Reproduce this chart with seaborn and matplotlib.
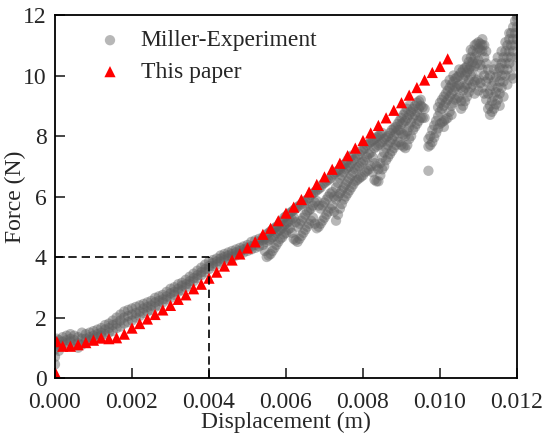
import numpy as np
import pandas as pd
import seaborn as sns
import matplotlib.pyplot as plt

# Visual Style
sns.set_style("white")
plt.rcParams['font.family'] = ['Liberation Serif', 'DejaVu Serif']

OUTPUT_PATH = "out.png"
FONT_SIZE = 17

# Miller experiment, lower part of the curve (displacement mm, force N)
exp_low_disp_mm = [
    0, 0, 0, 0,
    0.05, 0.05,
    0.1, 0.1, 0.1, 0.2, 0.2, 0.2, 0.3, 0.3, 0.3, 0.4, 0.4, 0.4,
    0.5, 0.5, 0.5, 0.6, 0.6, 0.6, 0.7, 0.7, 0.7, 0.8, 0.8, 0.8,
    0.9, 0.9, 0.9, 1.0, 1.0, 1.0, 1.1, 1.1, 1.1, 1.2, 1.2, 1.2,
    1.3, 1.3, 1.3, 1.4, 1.4, 1.4, 1.5, 1.5, 1.5, 1.6, 1.6, 1.6,
    1.7, 1.7, 1.7, 1.8, 1.8, 1.8, 1.9, 1.9, 1.9, 2.0, 2.0, 2.0,
    2.1, 2.1, 2.1, 2.2, 2.2, 2.2, 2.3, 2.3, 2.3, 2.4, 2.4, 2.4,
    2.5, 2.5, 2.5, 2.6, 2.6, 2.6, 2.7, 2.7, 2.7, 2.8, 2.8, 2.8,
    2.9, 2.9, 2.9, 3.0, 3.0, 3.0, 3.1, 3.1, 3.1, 3.2, 3.2, 3.2,
    3.3, 3.3, 3.3, 3.4, 3.4, 3.4, 3.5, 3.5, 3.5, 3.6, 3.6, 3.6,
    3.7, 3.7, 3.7, 3.8, 3.8, 3.8, 3.9, 3.9, 3.9, 4.0, 4.0, 4.0,
    4.1, 4.1, 4.1, 4.2, 4.2, 4.2, 4.3, 4.3, 4.3, 4.4, 4.4, 4.4,
    4.5, 4.5, 4.5, 4.6, 4.6, 4.6, 4.7, 4.7, 4.7, 4.8, 4.8, 4.8,
    4.9, 4.9, 4.9, 5.0, 5.0, 5.0, 5.1, 5.1, 5.1, 5.2, 5.2, 5.2,
    5.3, 5.3, 5.3, 5.4, 5.4, 5.4,
]
exp_low_force = [
    0.45, 0.7, 0.95, 1.2,
    1.05, 1.3,
    0.9, 1.1, 1.25, 1.1, 1.2, 1.35, 1.15, 1.25, 1.4, 1.2, 1.3, 1.45,
    1.1, 1.25, 1.4, 1.0, 1.15, 1.35, 1.1, 1.3, 1.5, 1.2, 1.3, 1.45,
    1.25, 1.35, 1.5, 1.3, 1.4, 1.55, 1.35, 1.45, 1.6, 1.4, 1.5, 1.65,
    1.45, 1.6, 1.75, 1.5, 1.65, 1.8, 1.55, 1.75, 1.9, 1.65, 1.8, 2.0,
    1.7, 1.9, 2.1, 1.8, 2.0, 2.2, 1.85, 2.05, 2.25, 1.9, 2.1, 2.3,
    2.0, 2.15, 2.35, 2.05, 2.2, 2.4, 2.15, 2.3, 2.45, 2.2, 2.35, 2.5,
    2.25, 2.4, 2.55, 2.35, 2.5, 2.65, 2.4, 2.55, 2.7, 2.5, 2.6, 2.75,
    2.6, 2.7, 2.85, 2.65, 2.8, 2.95, 2.75, 2.85, 3.0, 2.85, 2.95, 3.1,
    2.9, 3.05, 3.15, 3.0, 3.1, 3.25, 3.1, 3.2, 3.35, 3.2, 3.3, 3.45,
    3.3, 3.4, 3.55, 3.4, 3.5, 3.65, 3.5, 3.6, 3.75, 3.6, 3.7, 3.85,
    3.7, 3.8, 3.9, 3.75, 3.85, 3.95, 3.85, 3.95, 4.05, 3.9, 4.0, 4.1,
    3.95, 4.05, 4.15, 4.0, 4.1, 4.2, 4.05, 4.15, 4.25, 4.1, 4.2, 4.3,
    4.15, 4.25, 4.35, 4.2, 4.3, 4.4, 4.25, 4.35, 4.5, 4.3, 4.4, 4.55,
    4.35, 4.5, 4.6, 4.4, 4.55, 4.65,
]

# Miller experiment, upper (saw-tooth) part of the curve
exp_high_disp_mm = [
    5.45, 5.45,
    5.5, 5.5, 5.5, 5.55, 5.55, 5.55, 5.6, 5.6, 5.6, 5.65, 5.65, 5.65,
    5.7, 5.7, 5.7, 5.75, 5.75, 5.75, 5.8, 5.8, 5.8, 5.85, 5.85, 5.85,
    5.9, 5.9, 5.9, 5.95, 5.95, 5.95, 6.0, 6.0, 6.0, 6.05, 6.05, 6.05,
    6.1, 6.1, 6.1, 6.15, 6.15, 6.15, 6.2, 6.2, 6.2, 6.25, 6.25, 6.25,
    6.3, 6.3, 6.3, 6.35, 6.35, 6.35, 6.4, 6.4, 6.4, 6.45, 6.45, 6.45,
    6.5, 6.5, 6.5, 6.55, 6.55, 6.55, 6.6, 6.6, 6.6, 6.65, 6.65, 6.65,
    6.7, 6.7, 6.7, 6.75, 6.75, 6.75, 6.8, 6.8, 6.8, 6.85, 6.85, 6.85,
    6.9, 6.9, 6.9, 6.95, 6.95, 6.95, 7.0, 7.0, 7.0, 7.05, 7.05, 7.05,
    7.1, 7.1, 7.1, 7.15, 7.15, 7.15, 7.2, 7.2, 7.2, 7.25, 7.25, 7.25,
    7.3, 7.3, 7.3, 7.3, 7.35, 7.35, 7.35, 7.35, 7.4, 7.4, 7.4, 7.4,
    7.45, 7.45, 7.45, 7.45, 7.5, 7.5, 7.5, 7.5, 7.55, 7.55, 7.55, 7.55,
    7.6, 7.6, 7.6, 7.6, 7.65, 7.65, 7.65, 7.65, 7.7, 7.7, 7.7, 7.7,
    7.75, 7.75, 7.75, 7.8, 7.8, 7.8, 7.85, 7.85, 7.85, 7.9, 7.9, 7.9,
    7.95, 7.95, 7.95, 8.0, 8.0, 8.0, 8.05, 8.05, 8.05, 8.1, 8.1, 8.1,
    8.15, 8.15, 8.15, 8.2, 8.2, 8.2, 8.25, 8.25, 8.25,
    8.3, 8.3, 8.3, 8.3, 8.35, 8.35, 8.35, 8.35, 8.4, 8.4, 8.4, 8.4,
    8.45, 8.45, 8.45, 8.45, 8.5, 8.5, 8.5, 8.5,
    8.55, 8.55, 8.55, 8.6, 8.6, 8.6, 8.65, 8.65, 8.65, 8.7, 8.7, 8.7,
    8.75, 8.75, 8.75, 8.8, 8.8, 8.8, 8.85, 8.85, 8.85, 8.9, 8.9, 8.9,
    8.95, 8.95, 8.95,
    9.0, 9.0, 9.0, 9.0, 9.05, 9.05, 9.05, 9.05, 9.1, 9.1, 9.1, 9.1,
    9.15, 9.15, 9.15, 9.15, 9.2, 9.2, 9.2, 9.2,
    9.25, 9.25, 9.25, 9.3, 9.3, 9.3, 9.35, 9.35, 9.35, 9.4, 9.4, 9.4,
    9.45, 9.45, 9.45, 9.5, 9.5, 9.5,
    9.55, 9.55, 9.6, 9.6,
    9.7, 9.7, 9.7,
    9.75, 9.75, 9.8, 9.8, 9.85, 9.85, 9.9, 9.9,
    9.95, 9.95, 9.95, 10.0, 10.0, 10.0, 10.05, 10.05, 10.05,
    10.1, 10.1, 10.1, 10.15, 10.15, 10.15, 10.2, 10.2, 10.2,
    10.25, 10.25, 10.25, 10.3, 10.3, 10.3, 10.35, 10.35, 10.35,
    10.4, 10.4, 10.4, 10.45, 10.45, 10.45, 10.5, 10.5, 10.5,
    10.55, 10.55, 10.55,
    10.6, 10.6, 10.6, 10.6, 10.65, 10.65, 10.65, 10.65,
    10.7, 10.7, 10.7, 10.7, 10.75, 10.75, 10.75, 10.75,
    10.8, 10.8, 10.8, 10.8, 10.85, 10.85, 10.85, 10.85,
    10.9, 10.9, 10.9, 10.9, 10.95, 10.95, 10.95, 10.95,
    11.0, 11.0, 11.0, 11.0, 11.05, 11.05, 11.05, 11.05,
    11.1, 11.1, 11.1, 11.1,
    11.15, 11.15, 11.15, 11.2, 11.2, 11.2,
    11.25, 11.25, 11.25, 11.25, 11.3, 11.3, 11.3, 11.3,
    11.35, 11.35, 11.35, 11.4, 11.4, 11.4, 11.45, 11.45, 11.45,
    11.5, 11.5, 11.5, 11.55, 11.55, 11.55, 11.6, 11.6, 11.6,
    11.65, 11.65, 11.65, 11.7, 11.7, 11.7, 11.75, 11.75, 11.75,
    11.8, 11.8, 11.8, 11.85, 11.85, 11.85, 11.9, 11.9, 11.9,
    11.95, 11.95, 11.95, 12.0, 12.0, 12.0,
]
exp_high_force = [
    4.2, 4.6,
    4.0, 4.5, 4.75, 4.05, 4.55, 4.8, 4.1, 4.6, 4.85, 4.2, 4.65, 4.9,
    4.3, 4.7, 4.95, 4.4, 4.8, 5.0, 4.5, 4.85, 5.05, 4.6, 4.9, 5.15,
    4.65, 4.95, 5.2, 4.75, 5.05, 5.3, 4.8, 5.1, 5.35, 4.9, 5.15, 5.4,
    4.95, 5.2, 5.45, 4.8, 5.25, 5.5, 4.6, 5.3, 5.55, 4.55, 5.15, 5.6,
    4.5, 5.0, 5.65, 4.6, 5.1, 5.7, 4.7, 5.2, 5.75, 4.8, 5.3, 5.8,
    4.9, 5.4, 5.85, 5.0, 5.5, 5.9, 5.1, 5.55, 5.95, 5.2, 5.6, 6.05,
    5.3, 5.7, 6.1, 5.1, 5.8, 6.15, 4.95, 5.85, 6.2, 5.0, 5.7, 6.25,
    5.1, 5.6, 6.3, 5.2, 5.7, 6.4, 5.3, 5.8, 6.45, 5.4, 5.9, 6.5,
    5.5, 6.0, 6.55, 5.6, 6.1, 6.6, 5.7, 6.15, 6.7, 5.5, 6.0, 6.75,
    5.2, 5.9, 6.3, 6.8, 5.4, 6.0, 6.45, 6.85, 5.6, 6.1, 6.6, 6.9,
    5.75, 6.2, 6.7, 7.0, 5.9, 6.3, 6.8, 7.05, 6.0, 6.4, 6.9, 7.1,
    6.1, 6.5, 6.95, 7.2, 6.2, 6.6, 7.0, 7.3, 6.3, 6.7, 7.1, 7.35,
    6.4, 6.8, 7.2, 6.5, 6.9, 7.25, 6.55, 6.95, 7.35, 6.6, 7.0, 7.4,
    6.65, 7.1, 7.5, 6.7, 7.15, 7.55, 6.8, 7.2, 7.6, 6.85, 7.3, 7.7,
    6.9, 7.4, 7.75, 7.0, 7.45, 7.8, 6.8, 7.3, 7.85,
    6.55, 7.1, 7.6, 7.9, 6.5, 7.0, 7.65, 7.95, 6.5, 6.9, 7.7, 8.0,
    6.7, 7.1, 7.75, 8.05, 6.9, 7.3, 7.8, 8.1,
    7.0, 7.45, 7.9, 7.2, 7.6, 7.95, 7.3, 7.7, 8.0, 7.4, 7.8, 8.1,
    7.5, 7.9, 8.2, 7.6, 8.0, 8.25, 7.7, 8.1, 8.3, 7.8, 8.2, 8.4,
    7.8, 8.2, 8.5,
    7.7, 8.1, 8.4, 8.6, 7.65, 8.05, 8.45, 8.7, 7.6, 8.0, 8.5, 8.8,
    7.7, 8.15, 8.6, 8.9, 7.9, 8.3, 8.7, 9.0,
    8.0, 8.45, 8.8, 8.2, 8.6, 8.9, 8.3, 8.7, 9.0, 8.4, 8.8, 9.1,
    8.5, 8.9, 9.15, 8.6, 9.0, 9.2,
    8.6, 8.95, 8.6, 8.9,
    6.85, 7.65, 7.9,
    7.7, 8.0, 7.8, 8.2, 7.95, 8.35, 8.1, 8.5,
    8.25, 8.65, 8.95, 8.4, 8.8, 9.1, 8.45, 8.9, 9.2,
    8.5, 9.0, 9.3, 8.55, 9.1, 9.4, 8.6, 9.2, 9.5,
    8.8, 9.3, 9.6, 9.0, 9.4, 9.7, 9.1, 9.5, 9.8,
    9.2, 9.6, 9.9, 9.25, 9.65, 9.95, 9.3, 9.7, 10.0,
    9.15, 9.6, 10.1,
    9.0, 9.5, 9.9, 10.2, 9.15, 9.6, 10.0, 10.25,
    9.3, 9.7, 10.1, 10.3, 9.45, 9.85, 10.2, 10.45,
    9.6, 10.0, 10.3, 10.6, 9.7, 10.15, 10.45, 10.8,
    9.8, 10.3, 10.6, 11.0, 9.85, 10.4, 10.75, 11.05,
    9.9, 10.5, 10.9, 11.1, 9.75, 10.35, 10.85, 11.05,
    9.6, 10.2, 10.8, 11.0,
    9.4, 10.0, 10.6, 9.2, 9.8, 10.4,
    8.9, 9.4, 9.9, 10.2, 8.7, 9.0, 9.5, 10.0,
    8.8, 9.15, 9.65, 8.9, 9.3, 9.8, 9.05, 9.45, 9.95,
    9.2, 9.6, 10.1, 9.4, 9.8, 10.25, 9.6, 10.0, 10.4,
    9.8, 10.2, 10.6, 10.0, 10.4, 10.8, 10.2, 10.6, 11.0,
    10.4, 10.8, 11.2, 10.6, 11.0, 11.4, 10.8, 11.2, 11.6,
    11.0, 11.4, 11.8, 11.2, 11.6, 12.0,
]

# Miller experiment, scattered points at the end of the test
exp_tail_disp_mm = [
    10.1, 10.15, 10.25, 10.3, 10.35, 10.5, 10.55, 10.7, 10.8, 10.9,
    11.0, 11.1, 11.15, 11.2, 11.4, 11.45, 11.5, 11.55, 11.6, 11.65,
    11.7, 11.75, 11.8, 11.85, 11.9, 11.95, 12.0, 12.0,
]
exp_tail_force = [
    8.3, 9.7, 9.85, 8.7, 10.0, 10.2, 8.9, 10.55, 10.85, 9.4,
    9.5, 11.2, 11.0, 10.8, 10.2, 10.4, 10.6, 9.0, 10.8, 9.3,
    11.1, 9.7, 11.4, 10.0, 9.9, 10.3, 10.6, 11.9,
]

# This paper (simulation)
sim_disp_mm = [
    0.0, 0.05, 0.2, 0.4, 0.6, 0.8, 1.0, 1.2, 1.4, 1.6,
    1.8, 2.0, 2.2, 2.4, 2.6, 2.8, 3.0, 3.2, 3.4, 3.6,
    3.8, 4.0, 4.2, 4.4, 4.6, 4.8, 5.0, 5.2, 5.4, 5.6,
    5.8, 6.0, 6.2, 6.4, 6.6, 6.8, 7.0, 7.2, 7.4, 7.6,
    7.8, 8.0, 8.2, 8.4, 8.6, 8.8, 9.0, 9.2, 9.4, 9.6,
    9.8, 10.0, 10.2,
]
sim_force = [
    0.2, 1.2, 1.05, 1.05, 1.1, 1.17, 1.25, 1.32, 1.3, 1.33,
    1.45, 1.65, 1.8, 1.95, 2.1, 2.25, 2.4, 2.6, 2.75, 2.95,
    3.1, 3.3, 3.5, 3.7, 3.9, 4.1, 4.3, 4.5, 4.75, 4.95,
    5.2, 5.45, 5.65, 5.9, 6.15, 6.4, 6.65, 6.9, 7.1, 7.35,
    7.6, 7.85, 8.1, 8.35, 8.6, 8.85, 9.1, 9.35, 9.6, 9.85,
    10.1, 10.3, 10.55,
]

x_ticks = [0.0, 0.002, 0.004, 0.006, 0.008, 0.010, 0.012]
x_tick_labels = ["0.000", "0.002", "0.004", "0.006", "0.008", "0.010", "0.012"]
y_ticks = [0, 2, 4, 6, 8, 10, 12]


def main():
    assert len(exp_low_disp_mm) == len(exp_low_force)
    assert len(exp_high_disp_mm) == len(exp_high_force)
    assert len(exp_tail_disp_mm) == len(exp_tail_force)
    assert len(sim_disp_mm) == len(sim_force)

    exp = pd.DataFrame({
        "disp": np.array(exp_low_disp_mm + exp_high_disp_mm + exp_tail_disp_mm) / 1000.0,
        "force": exp_low_force + exp_high_force + exp_tail_force,
    })
    sim = pd.DataFrame({"disp": np.array(sim_disp_mm) / 1000.0, "force": sim_force})

    fig = plt.figure(figsize=(5.45, 4.36), dpi=100)
    ax = fig.add_axes([0.1009, 0.1330, 0.8477, 0.8326])

    sns.scatterplot(data=exp, x="disp", y="force", ax=ax, color="#606060",
                    alpha=0.45, s=55, edgecolor="none", label="Miller-Experiment")
    sns.scatterplot(data=sim, x="disp", y="force", ax=ax, color="red",
                    marker="^", s=65, edgecolor="none", label="This paper")

    # guide lines at (0.004, 4)
    ax.plot([0, 0.004], [4, 4], color="black", ls=(0, (5, 3)), lw=1.2, zorder=5)
    ax.plot([0.004, 0.004], [0, 4], color="black", ls=(0, (5, 3)), lw=1.2, zorder=5)

    ax.set_xlim(0, 0.012)
    ax.set_ylim(0, 12)
    ax.set_xticks(x_ticks)
    ax.set_xticklabels(x_tick_labels)
    ax.set_yticks(y_ticks)
    ax.tick_params(direction="in", length=7, width=1.2, labelsize=FONT_SIZE,
                   bottom=True, left=True, top=False, right=False)
    ax.tick_params(axis="x", pad=10)
    ax.tick_params(axis="y", pad=6)
    ax.set_xlabel("Displacement (m)", fontsize=FONT_SIZE, labelpad=-1)
    ax.set_ylabel("Force (N)", fontsize=FONT_SIZE, labelpad=-2)

    for sp in ax.spines.values():
        sp.set_color("black")
        sp.set_linewidth(1.3)

    ax.legend(loc="upper left", bbox_to_anchor=(0.0935, 0.959), frameon=False,
              fontsize=FONT_SIZE, handlelength=1.0, handletextpad=0.8,
              borderpad=0, borderaxespad=0, labelspacing=0.42)

    fig.savefig(OUTPUT_PATH, dpi=100)
    plt.close(fig)


if __name__ == "__main__":
    main()
